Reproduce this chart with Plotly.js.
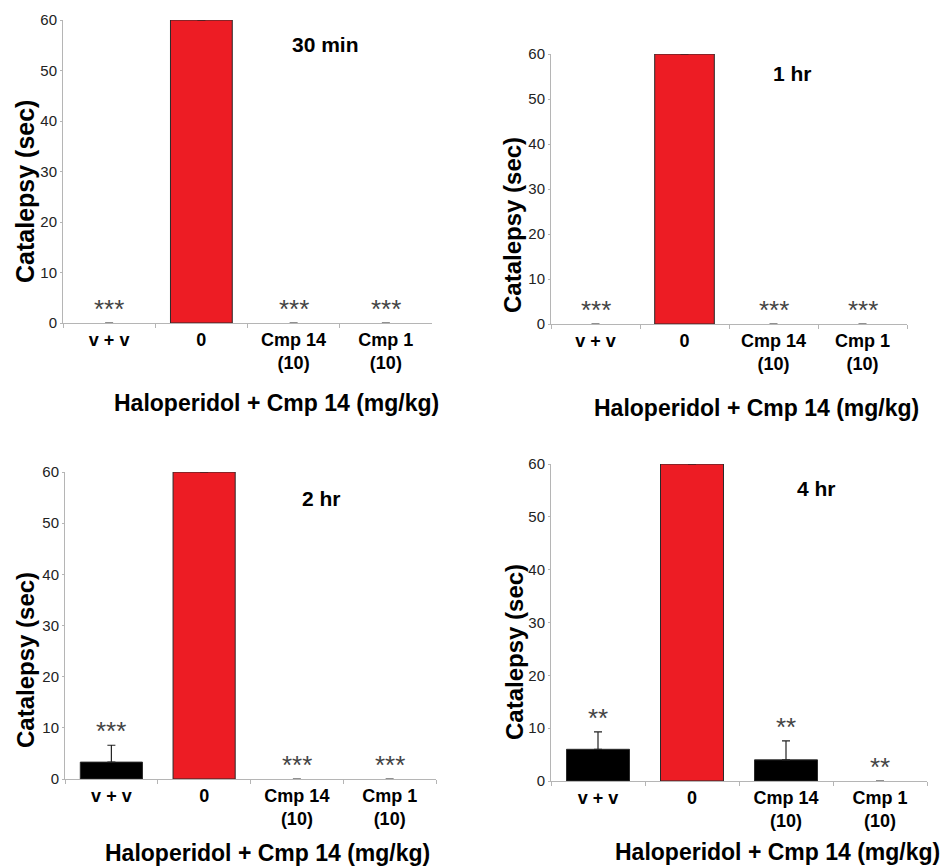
<!DOCTYPE html>
<html>
<head>
<meta charset="utf-8">
<script src="https://cdn.plot.ly/plotly-3.0.1.min.js"></script>
<style>html,body{margin:0;padding:0;background:#fff}#chart{width:948px;height:868px}</style>
</head>
<body>
<div id="chart"></div>
<script>
// ---- data ----
var categories = ["v + v", "0", "Cmp 14<br>(10)", "Cmp 1<br>(10)"];
var panelTitles = ["30 min", "1 hr", "2 hr", "4 hr"];
var means30min = [0, 60, 0, 0];
var sem30min   = [0, 0, 0, 0];
var stars30min = ["***", "", "***", "***"];
var means1hr = [0, 60, 0, 0];
var sem1hr   = [0, 0, 0, 0];
var stars1hr = ["***", "", "***", "***"];
var means2hr = [3.3, 60, 0, 0];
var sem2hr   = [3.3, 0, 0, 0];
var stars2hr = ["***", "", "***", "***"];
var means4hr = [6.0, 60, 4.0, 0];
var sem4hr   = [3.3, 0, 3.6, 0];
var stars4hr = ["**", "", "**", "**"];
var yTitle = "Catalepsy (sec)";
var xTitle = "Haloperidol + Cmp 14 (mg/kg)";
var yTicks = [0, 10, 20, 30, 40, 50, 60];

// ---- layout helpers ----
var W = 948, H = 868;
function px(x){ return x / W; }
function py(y){ return 1 - y / H; }
var FONT = "Liberation Sans, Arial, sans-serif";
var RED = "#ED1C24";

var panels = [
  {m: means30min, e: sem30min, s: stars30min, x0: 63, x1: 432, yTop: 20, yBot: 323,
   yt: [25, 192, 25], xt: [276, 403], tt: [325, 45]},
  {m: means1hr, e: sem1hr, s: stars1hr, x0: 551, x1: 907, yTop: 54, yBot: 324,
   yt: [513, 225, 24], xt: [756, 408], tt: [792, 73]},
  {m: means2hr, e: sem2hr, s: stars2hr, x0: 65, x1: 436, yTop: 472, yBot: 779,
   yt: [25, 660, 24], xt: [267, 853], tt: [321, 498]},
  {m: means4hr, e: sem4hr, s: stars4hr, x0: 551, x1: 927, yTop: 464, yBot: 781,
   yt: [514, 652, 24], xt: [777, 852], tt: [816, 488]}
];

var traces = [];
var layout = {
  width: W, height: H,
  margin: {l: 0, r: 0, t: 0, b: 0},
  paper_bgcolor: "#fff", plot_bgcolor: "#fff",
  showlegend: false,
  bargap: 0.33,
  font: {family: FONT, color: "#000"},
  annotations: []
};

panels.forEach(function(p, i){
  var n = i === 0 ? "" : String(i + 1);
  var xa = "x" + n, ya = "y" + n;
  traces.push({
    type: "bar",
    x: categories, y: p.m,
    xaxis: xa, yaxis: ya,
    marker: {
      color: p.m.map(function(v, k){ return k === 1 ? RED : "#000"; }),
      line: {color: "#2a2a2a", width: p.m.map(function(v){ return v > 0 ? 1 : 0; })}
    },
    error_y: {type: "data", symmetric: false, array: p.e,
              arrayminus: p.e.map(function(){ return 0; }),
              color: "#222", thickness: 1.2, width: 4},
    hoverinfo: "x+y"
  });
  layout["xaxis" + n] = {
    domain: [px(p.x0), px(p.x1)],
    anchor: ya,
    type: "category",
    showgrid: false, zeroline: false,
    showline: true, linecolor: "#b5b5b5", linewidth: 1,
    ticks: "outside", tickson: "boundaries", ticklen: 4, tickcolor: "#b5b5b5",
    tickfont: {family: FONT, size: 18, color: "#000", weight: "bold"},
    fixedrange: true
  };
  layout["yaxis" + n] = {
    domain: [py(p.yBot), py(p.yTop)],
    anchor: xa,
    range: [0, 60],
    tickvals: yTicks,
    showgrid: false, zeroline: false,
    showline: true, linecolor: "#b5b5b5", linewidth: 1,
    ticks: "outside", ticklen: 2, tickcolor: "#b5b5b5",
    tickfont: {family: FONT, size: 15, color: "#222"},
    fixedrange: true
  };
  // significance stars above each bar/error bar
  p.s.forEach(function(st, k){
    if (!st) return;
    layout.annotations.push({
      xref: xa, yref: ya, x: categories[k], y: p.m[k] + p.e[k],
      text: st, showarrow: false, yanchor: "middle", yshift: 14,
      font: {family: FONT, size: 26, color: "#444"}
    });
  });
  // panel title
  layout.annotations.push({
    xref: "paper", yref: "paper", x: px(p.tt[0]), y: py(p.tt[1]),
    text: panelTitles[i], showarrow: false, xanchor: "center", yanchor: "middle",
    font: {family: FONT, size: 21, color: "#000", weight: "bold"}
  });
  // y axis title
  layout.annotations.push({
    xref: "paper", yref: "paper", x: px(p.yt[0]), y: py(p.yt[1]),
    text: yTitle, showarrow: false, textangle: -90, xanchor: "center", yanchor: "middle",
    font: {family: FONT, size: p.yt[2], color: "#000", weight: "bold"}
  });
  // x axis title
  layout.annotations.push({
    xref: "paper", yref: "paper", x: px(p.xt[0]), y: py(p.xt[1]),
    text: xTitle, showarrow: false, xanchor: "center", yanchor: "middle",
    font: {family: FONT, size: 23, color: "#000", weight: "bold"}
  });
});

Plotly.newPlot("chart", traces, layout, {displayModeBar: false, staticPlot: true});
</script>
</body>
</html>
